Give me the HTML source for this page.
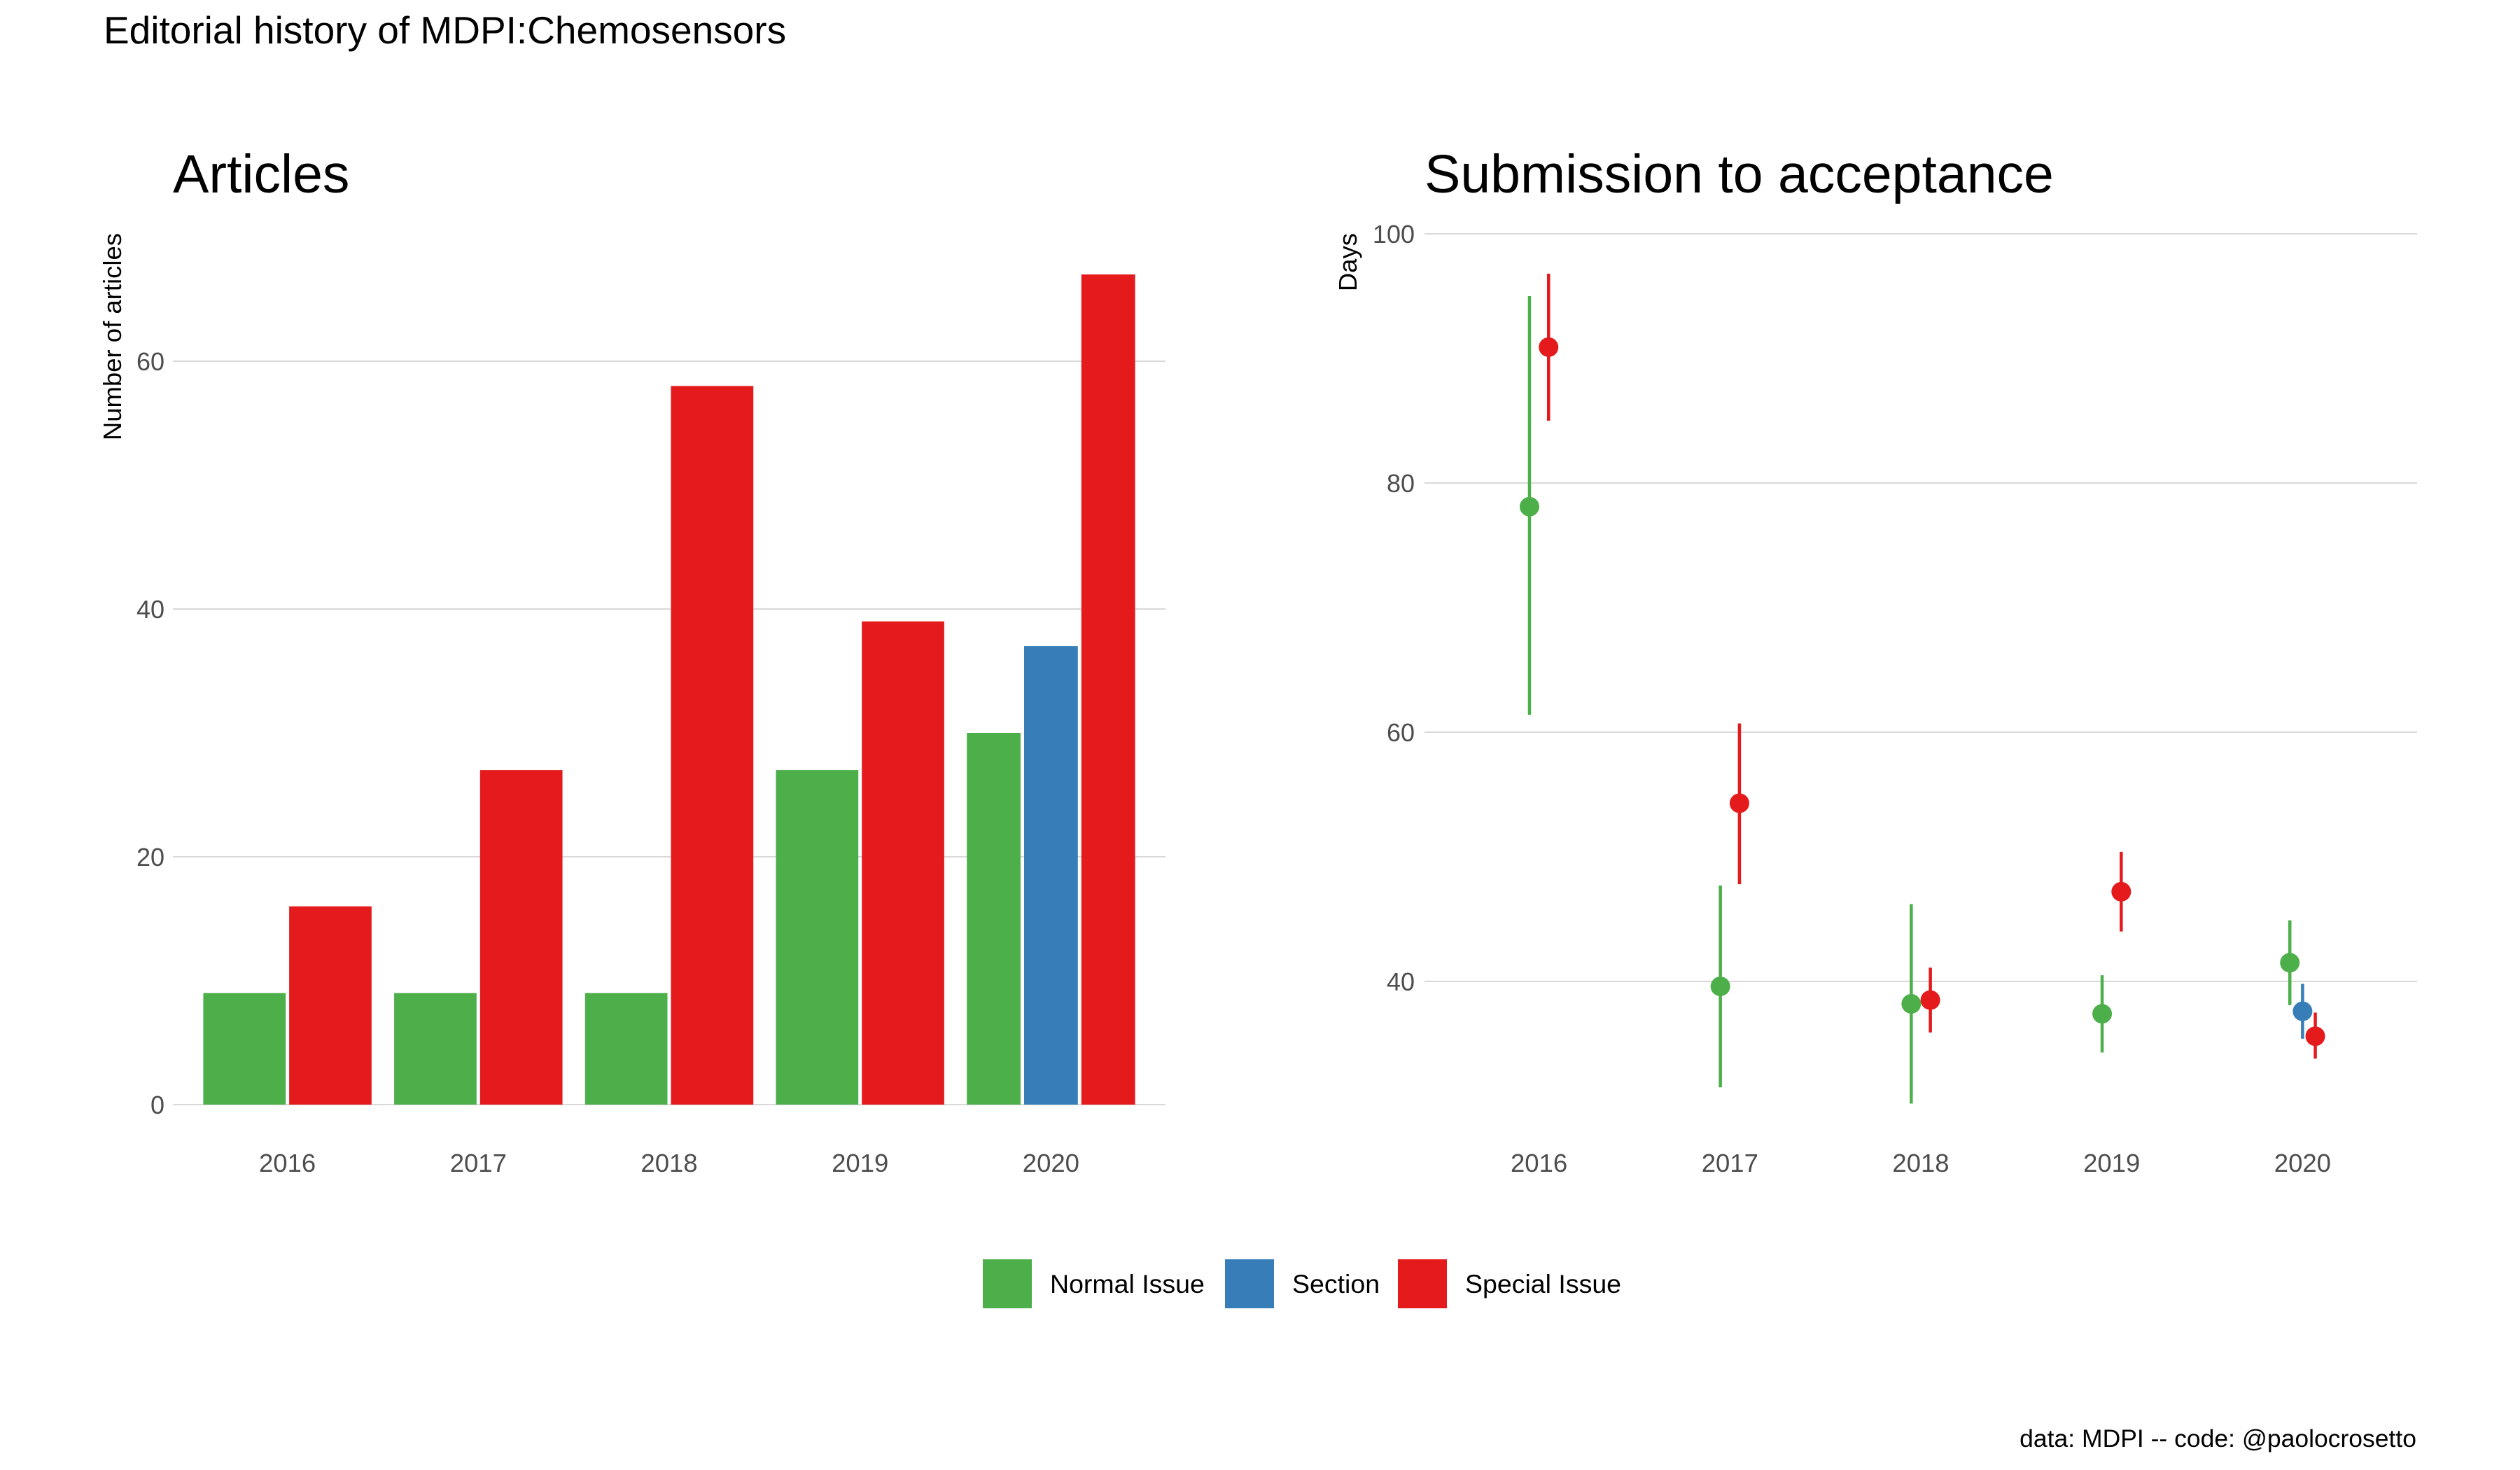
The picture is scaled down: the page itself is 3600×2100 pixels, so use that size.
<!DOCTYPE html>
<html><head><meta charset="utf-8"><style>
html,body{margin:0;padding:0;background:#fff}
svg{display:block;font-family:"Liberation Sans",Arial,sans-serif}
</style></head><body>
<svg id="chart" width="3600" height="2100" viewBox="0 0 3600 2100">
<text x="148" y="62" font-size="55" fill="#000">Editorial history of MDPI:Chemosensors</text>
<text x="247" y="275" font-size="77" fill="#000">Articles</text>
<text x="2035" y="275" font-size="77" fill="#000">Submission to acceptance</text>
<text transform="translate(173,333) rotate(-90)" text-anchor="end" font-size="36.5" fill="#000">Number of articles</text>
<text transform="translate(1938,333) rotate(-90)" text-anchor="end" font-size="36.5" fill="#000">Days</text>
<g id="left"></g>
<g id="right"></g>
<g id="legend"></g>
<text x="3452" y="2067" text-anchor="end" font-size="35.5" fill="#000">data: MDPI -- code: @paolocrosetto</text>
</svg>
<script>
const years = ["2016","2017","2018","2019","2020"];
const normalCounts = [9, 9, 9, 27, 30];
const sectionCounts = [null, null, null, null, 37];
const specialCounts = [16, 27, 58, 39, 67];
const countTicks = [0, 20, 40, 60];
const dayTicks = [40, 60, 80, 100];
const normalDays = [78.1, 39.6, 38.2, 37.4, 41.5];
const normalLo = [61.4, 31.5, 30.2, 34.3, 38.1];
const normalHi = [95, 47.7, 46.2, 40.5, 44.9];
const sectionDays = [null, null, null, null, 37.6];
const sectionLo = [null, null, null, null, 35.4];
const sectionHi = [null, null, null, null, 39.8];
const specialDays = [90.9, 54.3, 38.5, 47.2, 35.6];
const specialLo = [85.0, 47.8, 35.9, 44.0, 33.8];
const specialHi = [96.8, 60.7, 41.1, 50.4, 37.5];
const seriesNames = ["Normal Issue", "Section", "Special Issue"];

const NS = "http://www.w3.org/2000/svg";
const COL = ["#4DAF4A", "#377EB8", "#E41A1C"];
function mk(parent, tag, attrs){const e=document.createElementNS(NS,tag);for(const k in attrs)e.setAttribute(k,attrs[k]);parent.appendChild(e);return e;}

// Left panel
const L = {x0:247, x1:1665, y0:1578, pxPer:354/20};
const lx = i => L.x0 + (i+0.6)*(L.x1-L.x0)/5.2;
const ly = v => L.y0 - v*L.pxPer;
const left = document.getElementById('left');
countTicks.forEach(t=>{
  const g=mk(left,'line',{x1:L.x0,x2:L.x1,y1:ly(t),y2:ly(t),stroke:'#d9d9d9','stroke-width':2});
  
  
  const tx=mk(left,'text',{x:235,y:ly(t)+13,'text-anchor':'end','font-size':36,fill:'#4d4d4d'});
  tx.textContent=t;
  
  
});
const unit=(L.x1-L.x0)/5.2;
years.forEach((y,i)=>{
  const vals=[normalCounts[i],sectionCounts[i],specialCounts[i]];
  const present=[0,1,2].filter(k=>vals[k]!=null);
  const n=present.length, w=0.9*unit/n;
  present.forEach((k,j)=>{
    const xs=lx(i)-0.45*unit+j*w;
    const r=mk(left,'rect',{x:xs+2.5,y:ly(vals[k]),width:w-5,height:ly(0)-ly(vals[k]),fill:COL[k]});
    
    
  });
  const tx=mk(left,'text',{x:lx(i),y:1674,'text-anchor':'middle','font-size':36.5,fill:'#4d4d4d'});
  tx.textContent=y;
  
  
});

// Right panel
const R = {x0:2035, x1:3453, y100:334, pxPer:356/20};
const rx = i => R.x0 + (i+0.6)*(R.x1-R.x0)/5.2;
const ry = v => R.y100 + (100-v)*R.pxPer;
const right = document.getElementById('right');
dayTicks.forEach(t=>{
  const g=mk(right,'line',{x1:R.x0,x2:R.x1,y1:ry(t),y2:ry(t),stroke:'#d9d9d9','stroke-width':2});
  
  
  const tx=mk(right,'text',{x:2021,y:ry(t)+13,'text-anchor':'end','font-size':36,fill:'#4d4d4d'});
  tx.textContent=t;
  
  
});
const runit=(R.x1-R.x0)/5.2;
const S=[[normalDays,normalLo,normalHi],[sectionDays,sectionLo,sectionHi],[specialDays,specialLo,specialHi]];
years.forEach((y,i)=>{
  const present=[0,1,2].filter(k=>S[k][0][i]!=null);
  const n=present.length, dw=0.2*runit;
  present.forEach((k,j)=>{
    const x=rx(i)-dw/2+(j+0.5)*dw/n;
    const ln=mk(right,'line',{x1:x,x2:x,y1:ry(S[k][2][i]),y2:ry(S[k][1][i]),stroke:COL[k],'stroke-width':4.5});
    
    
    const c=mk(right,'circle',{cx:x,cy:ry(S[k][0][i]),r:14,fill:COL[k]});
    
    
  });
  const tx=mk(right,'text',{x:rx(i),y:1674,'text-anchor':'middle','font-size':36.5,fill:'#4d4d4d'});
  tx.textContent=y;
  
  
});

// Legend
const legend=document.getElementById('legend');
const lxs=[1404,1750,1997];
seriesNames.forEach((nm,k)=>{
  const r=mk(legend,'rect',{x:lxs[k],y:1799,width:70,height:70,fill:COL[k]});
  
  
  const t=mk(legend,'text',{x:lxs[k]+96,y:1847,'font-size':37.5,fill:'#000'});
  t.textContent=nm;
  
  
});
</script>
</body></html>
